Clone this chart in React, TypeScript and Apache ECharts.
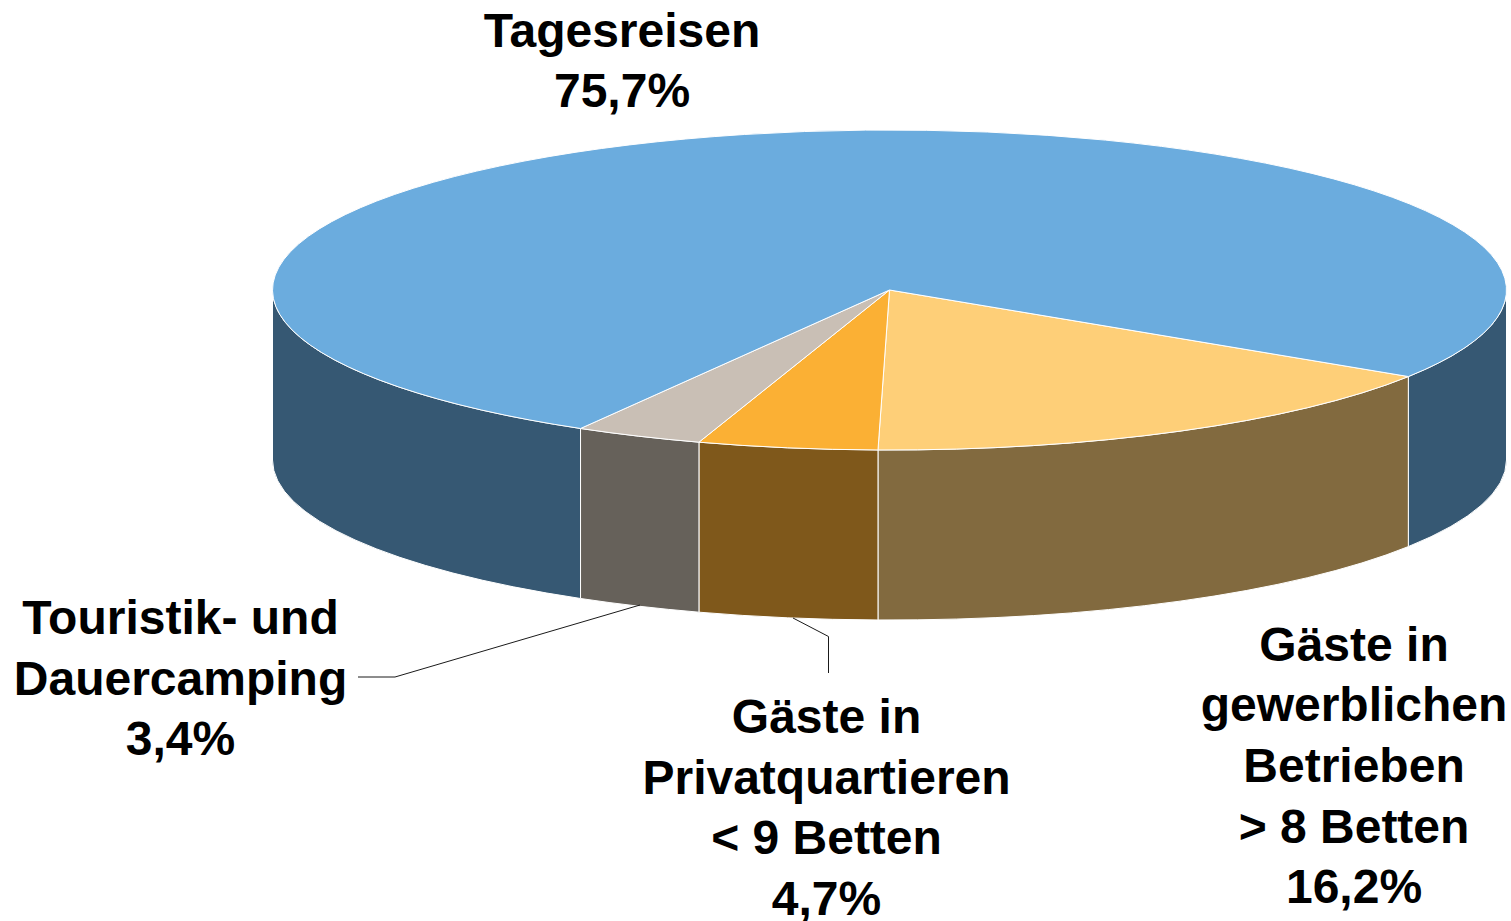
import React, { useEffect, useRef } from "react";
import * as echarts from "echarts";

const categories = [
  "Gäste in gewerblichen Betrieben",
  "Gäste in Privatquartieren",
  "Touristik- und Dauercamping",
  "Tagesreisen",
];
const shares = [16.2, 4.7, 3.35, 75.75];
const topColors = ["#fecf78", "#fbb034", "#c9bfb5", "#6bacde"];
const wallColors = ["#826a3f", "#7f581b", "#66615a", "#365873"];
const labelLines = [
  ["Tagesreisen", "75,7%"],
  ["Gäste in", "gewerblichen", "Betrieben", "> 8 Betten", "16,2%"],
  ["Gäste in", "Privatquartieren", "< 9 Betten", "4,7%"],
  ["Touristik- und", "Dauercamping", "3,4%"],
];

const CX = 889.5, CY = 290, RX = 617, RY = 160, DEPTH = 170;
const START = (32.75 * Math.PI) / 180;

const pt = (a: number, dy = 0) => [CX + RX * Math.cos(a), CY + dy + RY * Math.sin(a)];
const f = (p: number[]) => `${p[0].toFixed(2)} ${p[1].toFixed(2)}`;
const arcTo = (a0: number, a1: number, dy = 0, rev = false) =>
  `A ${RX} ${RY} 0 ${Math.abs(a1 - a0) > Math.PI ? 1 : 0} ${rev ? 0 : 1} ${f(pt(a1, dy))}`;

function wallPath(a0: number, a1: number) {
  const parts: string[] = [];
  const ranges: number[][] = [];
  for (let k = 0; k < 2; k++) {
    const lo = Math.max(a0, k * 2 * Math.PI);
    const hi = Math.min(a1, k * 2 * Math.PI + Math.PI);
    if (hi > lo) ranges.push([lo, hi]);
  }
  for (const [lo, hi] of ranges) {
    parts.push(
      `M ${f(pt(lo))} ${arcTo(lo, hi)} L ${f(pt(hi, DEPTH))} ${arcTo(hi, lo, DEPTH, true)} Z`
    );
  }
  return parts.join(" ");
}

export default function App() {
  const ref = useRef<HTMLDivElement>(null);
  useEffect(() => {
    document.body.style.margin = "0";
    const chart = echarts.init(ref.current!, undefined, { renderer: "svg" });
    const total = shares.reduce((a, b) => a + b, 0);
    const angles: number[] = [START];
    shares.forEach((v) => angles.push(angles[angles.length - 1] + (v / total) * 2 * Math.PI));
    const stroke = { stroke: "#ffffff", lineWidth: 1 };
    const renderItem = (_p: any, api: any) => {
      const i = api.value(0);
      const a0 = angles[i], a1 = angles[i + 1];
      const wall = wallPath(a0, a1);
      const top = `M ${CX} ${CY} L ${f(pt(a0))} ${arcTo(a0, a1)} Z`;
      return {
        type: "group",
        children: [
          { type: "path", shape: { pathData: wall }, style: { fill: wallColors[i], ...stroke } },
          { type: "path", shape: { pathData: top }, style: { fill: topColors[i], ...stroke } },
        ],
      };
    };
    const font = { fontFamily: "Liberation Sans", fontWeight: "bold", fontSize: 48, lineHeight: 60.7, fill: "#000", align: "center", verticalAlign: "middle" };
    const label = (x: number, y: number, lines: string[]) => ({
      type: "text", x, y, style: { ...font, text: lines.join("\n") },
    });
    const leader = (points: number[][]) => ({
      type: "polyline", shape: { points }, style: { stroke: "#1a1a1a", lineWidth: 1, fill: "none" }, z: 10,
    });
    chart.setOption({
      animation: false,
      backgroundColor: "#fff",
      series: [{
        type: "custom",
        coordinateSystem: "none",
        silent: true,
        renderItem,
        data: shares.map((v, i) => ({ name: categories[i], value: [i, v] })),
      }],
      graphic: [
        label(622, 60.5, labelLines[0]),
        label(1354, 765.5, labelLines[1]),
        label(826.5, 807.5, labelLines[2]),
        label(180.5, 678, labelLines[3]),
        leader([[358, 677], [395, 677], [640, 605]]),
        leader([[828.5, 673], [828.5, 636.5], [793, 618]]),
      ],
    });
    return () => chart.dispose();
  }, []);
  return <div ref={ref} style={{ width: 1511, height: 921 }} />;
}
